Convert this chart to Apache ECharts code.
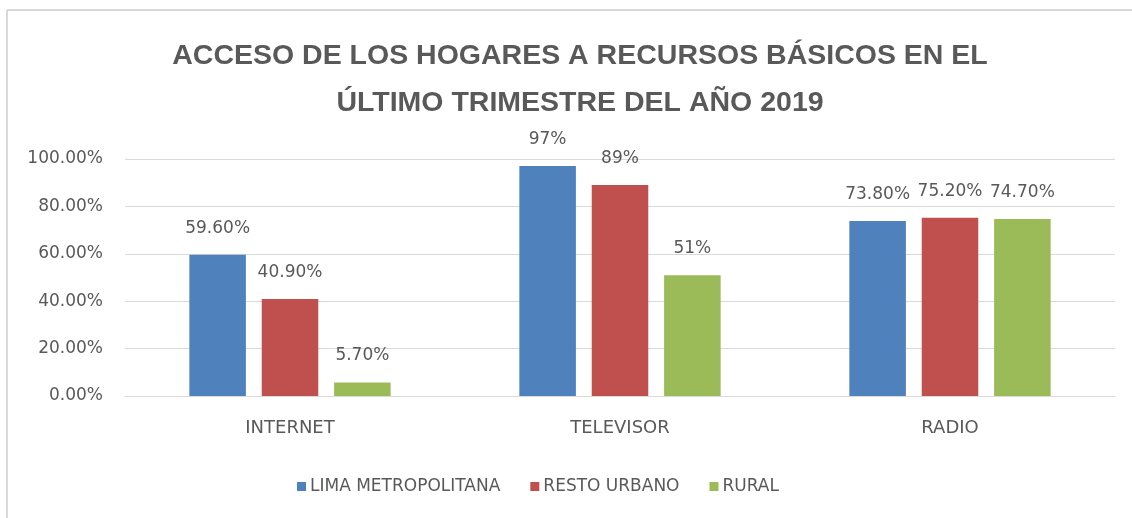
<!DOCTYPE html>
<html>
<head>
<meta charset="utf-8">
<script src="https://cdn.jsdelivr.net/npm/echarts@6/dist/echarts.min.js"></script>
<style>
  html, body { margin: 0; padding: 0; background: #fff; }
  #container { width: 1132px; height: 518px; }
</style>
</head>
<body>
<div id="container"></div>
<script>
    let categories = ['INTERNET', 'TELEVISOR', 'RADIO'];
    let seriesNames = ['LIMA METROPOLITANA', 'RESTO URBANO', 'RURAL'];
    let limaValues = [59.6, 97, 73.8];
    let restoValues = [40.9, 89, 75.2];
    let ruralValues = [5.7, 51, 74.7];
    // decimals shown in the data labels, per category
    let labelDecimals = [2, 0, 2];
    let yTicks = [0, 20, 40, 60, 80, 100];

    let colors = ['#4f81bd', '#c0504d', '#9bbb59'];
    let textColor = '#595959';
    let font = '"DejaVu Sans", sans-serif';
    let titleFont = '"Liberation Sans", sans-serif';

    let dom = document.getElementById('container');
    let myChart = echarts.init(dom);

    function makeSeries(name, data, color) {
        return {
            name: name,
            type: 'bar',
            data: data,
            barGap: '28%',
            barCategoryGap: '39%',
            itemStyle: { color: color },
            label: {
                show: true,
                position: 'top',
                distance: 18,
                fontSize: 17,
                fontFamily: font,
                color: textColor,
                formatter: function (p) {
                    return p.value.toFixed(labelDecimals[p.dataIndex]) + '%';
                }
            }
        };
    }

    let option = {
        animation: false,
        title: {
            text: 'ACCESO DE LOS HOGARES A RECURSOS BÁSICOS EN EL\nÚLTIMO TRIMESTRE DEL AÑO 2019',
            left: 575,
            textAlign: 'center',
            top: 28,
            textStyle: {
                fontFamily: titleFont,
                fontWeight: 'bold',
                fontSize: 28.5,
                lineHeight: 47,
                color: textColor
            }
        },
        legend: {
            data: seriesNames,
            left: 292,
            top: 473,
            itemWidth: 9,
            itemHeight: 9,
            itemGap: 30,
            icon: 'rect',
            textStyle: {
                fontFamily: font,
                fontSize: 17,
                color: textColor,
                padding: [0, 0, 0, -1]
            }
        },
        grid: {
            left: 125,
            right: 17,
            top: 159,
            bottom: 122
        },
        xAxis: {
            type: 'category',
            data: categories,
            axisLine: { lineStyle: { color: '#d9d9d9' } },
            axisTick: { show: false },
            axisLabel: {
                fontFamily: font,
                fontSize: 18,
                color: textColor,
                margin: 23
            }
        },
        yAxis: {
            type: 'value',
            min: yTicks[0],
            max: yTicks[yTicks.length - 1],
            interval: 20,
            axisLine: { show: false },
            axisTick: { show: false },
            splitLine: { lineStyle: { color: '#d9d9d9', width: 1 } },
            axisLabel: {
                fontFamily: font,
                fontSize: 17,
                color: textColor,
                margin: 22,
                formatter: function (v) { return v.toFixed(2) + '%'; }
            }
        },
        graphic: [
            { type: 'line', shape: { x1: 7, y1: 10, x2: 1132, y2: 10 }, style: { stroke: '#d9d9d9', lineWidth: 2 } },
            { type: 'line', shape: { x1: 7, y1: 10, x2: 7, y2: 518 }, style: { stroke: '#d9d9d9', lineWidth: 2 } }
        ],
        series: [
            makeSeries(seriesNames[0], limaValues, colors[0]),
            makeSeries(seriesNames[1], restoValues, colors[1]),
            makeSeries(seriesNames[2], ruralValues, colors[2])
        ]
    };
    myChart.setOption(option);
</script>
</body>
</html>
